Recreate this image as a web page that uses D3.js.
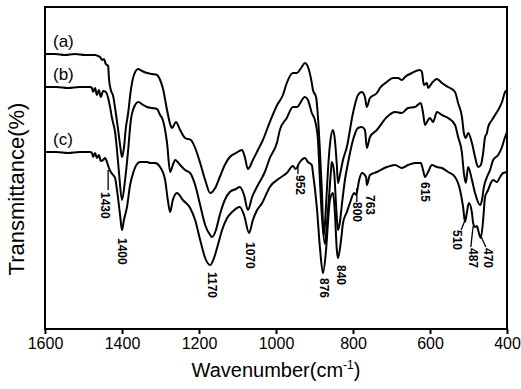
<!DOCTYPE html>
<html>
<head>
<meta charset="utf-8">
<script src="https://cdn.jsdelivr.net/npm/d3@7"></script>
<style>
    body { margin: 0; background: #fff; }
    text { font-family: "Liberation Sans", Arial, sans-serif; fill: #000; }
</style>
</head>
<body>
<div id="chart"></div>
<script>
// x axis ticks (cm-1), axis runs high -> low
var xTicks = [1600, 1400, 1200, 1000, 800, 600, 400];
var seriesNames = ["(a)", "(b)", "(c)"];

// spectra: [wavenumber, transmittance (a.u., stacked)]
var spectrumA = [
    [1600, 275], [1574, 275], [1548, 274], [1522, 275], [1496, 274], [1470, 274], [1462, 273],
    [1457, 272], [1452, 269], [1447, 270], [1442, 265], [1436, 263], [1434, 251], [1429, 239],
    [1423, 233], [1418, 221], [1410, 199], [1405, 184], [1400, 172], [1395, 181], [1390, 201],
    [1384, 216], [1377, 239], [1369, 254], [1358, 260], [1348, 258], [1335, 256], [1322, 255],
    [1309, 254], [1301, 249], [1294, 241], [1283, 219], [1275, 205], [1270, 201], [1260, 207],
    [1249, 199], [1236, 191], [1221, 189], [1208, 179], [1197, 166], [1184, 149], [1171, 136],
    [1158, 141], [1146, 152], [1133, 164], [1120, 172], [1104, 176], [1088, 179], [1081, 172],
    [1073, 160], [1060, 169], [1047, 179], [1034, 189], [1016, 207], [997, 224], [982, 234],
    [972, 246], [956, 256], [946, 256], [933, 262], [925, 266], [917, 262], [907, 246],
    [904, 239], [896, 232], [891, 212], [886, 179], [881, 139], [876, 93], [870, 124],
    [865, 159], [860, 184], [852, 199], [847, 189], [842, 164], [839, 146], [834, 154],
    [826, 169], [816, 182], [800, 216], [787, 234], [777, 237], [769, 232], [764, 222],
    [756, 231], [738, 236], [730, 241], [712, 247], [696, 251], [683, 251], [673, 249],
    [665, 252], [647, 256], [626, 259], [621, 257], [616, 244], [608, 246], [605, 241],
    [595, 246], [582, 250], [569, 246], [553, 242], [535, 237], [527, 226], [517, 212],
    [512, 196], [507, 191], [501, 196], [491, 186], [483, 172], [475, 162], [468, 164],
    [462, 176], [457, 192], [452, 196], [449, 202], [439, 209], [431, 214], [423, 219],
    [413, 227], [405, 237], [400, 239]
];

var spectrumB = [
    [1600, 242], [1570, 242], [1540, 241], [1510, 242], [1483, 242], [1478, 241], [1475, 237],
    [1470, 241], [1465, 234], [1460, 239], [1455, 232], [1449, 238], [1442, 237], [1436, 231],
    [1431, 222], [1426, 211], [1423, 206], [1418, 197], [1413, 179], [1408, 157], [1400, 129],
    [1392, 149], [1384, 179], [1377, 209], [1366, 224], [1358, 227], [1345, 224], [1335, 222],
    [1322, 221], [1309, 220], [1301, 214], [1294, 209], [1283, 186], [1275, 157], [1268, 164],
    [1262, 169], [1249, 164], [1236, 159], [1223, 156], [1210, 144], [1197, 124], [1184, 104],
    [1171, 94], [1166, 92], [1156, 99], [1146, 114], [1133, 129], [1120, 137], [1104, 140],
    [1094, 142], [1083, 134], [1073, 119], [1062, 132], [1047, 144], [1029, 157], [1016, 171],
    [997, 187], [990, 199], [972, 211], [956, 222], [946, 222], [925, 232], [917, 229],
    [907, 216], [899, 209], [891, 189], [886, 149], [881, 114], [873, 85], [868, 104],
    [862, 134], [857, 159], [855, 167], [849, 157], [844, 124], [839, 99], [834, 107],
    [829, 124], [821, 149], [813, 166], [800, 189], [787, 201], [777, 202], [769, 199],
    [764, 181], [756, 192], [738, 199], [712, 212], [691, 217], [673, 216], [657, 221],
    [639, 222], [624, 226], [618, 216], [613, 204], [605, 209], [600, 211], [592, 207],
    [582, 217], [569, 214], [553, 211], [535, 204], [527, 192], [517, 176], [512, 156],
    [507, 146], [501, 162], [491, 149], [483, 136], [470, 124], [465, 129], [460, 142],
    [452, 152], [444, 159], [436, 169], [423, 174], [413, 182], [405, 192], [400, 197]
];

var spectrumC = [
    [1600, 177], [1570, 177], [1540, 176], [1510, 177], [1483, 177], [1478, 176], [1475, 172],
    [1470, 176], [1465, 171], [1460, 174], [1455, 168], [1449, 169], [1444, 171], [1439, 167],
    [1434, 161], [1429, 157], [1423, 154], [1418, 151], [1413, 139], [1405, 114], [1400, 99],
    [1395, 109], [1387, 122], [1379, 144], [1371, 156], [1361, 165], [1353, 167], [1335, 167],
    [1327, 166], [1314, 166], [1301, 162], [1288, 149], [1281, 129], [1275, 117], [1268, 129],
    [1257, 136], [1242, 129], [1223, 121], [1210, 109], [1197, 89], [1184, 71], [1171, 64],
    [1161, 71], [1151, 84], [1140, 99], [1127, 111], [1114, 117], [1094, 122], [1083, 114],
    [1070, 96], [1060, 109], [1049, 119], [1036, 126], [1016, 142], [990, 151], [972, 156],
    [956, 163], [949, 160], [938, 167], [925, 171], [917, 167], [907, 164], [904, 156],
    [894, 122], [886, 82], [878, 56], [870, 79], [865, 106], [860, 129], [852, 136],
    [847, 116], [842, 79], [839, 71], [831, 89], [826, 106], [816, 117], [808, 126],
    [797, 136], [792, 134], [784, 149], [777, 156], [766, 152], [764, 144], [756, 154],
    [738, 157], [712, 162], [691, 164], [673, 161], [657, 164], [639, 166], [624, 166],
    [618, 159], [613, 152], [605, 157], [595, 164], [582, 162], [569, 161], [553, 157],
    [535, 152], [522, 139], [514, 122], [509, 107], [504, 117], [499, 126], [491, 116],
    [488, 106], [483, 102], [478, 103], [475, 99], [468, 91], [462, 109], [457, 132],
    [449, 139], [442, 146], [436, 149], [426, 147], [418, 152], [410, 156], [400, 157]
];

// peak annotations: text, [wavenumber, value] of text top, optional leader line
var peakText = ["1430", "1400", "1170", "1070", "952", "876", "840", "800", "763", "615", "510", "487", "470"];
var peakAt = [[1444, 137], [1400, 91], [1165, 57], [1068, 87], [938, 154], [876, 51], [831, 64],
              [789, 127], [756, 134], [613, 147], [530, 99], [488, 81], [449, 81]];
var peakLeader = [[1436, 159, 1436, 139], null, null, null, [943, 163, 943, 155], null, null,
                  [790, 141, 790, 127], null, null, [509, 109, 519, 99], [488, 103, 494, 82],
                  [468, 93, 455, 82]];

SpectraVis = function (_parentElement, _series, _names) {
    this.parentElement = _parentElement;
    this.series = _series;
    this.names = _names;

    this.initVis();
}

SpectraVis.prototype.initVis = function () {
    var vis = this;

    vis.margin = { top: 7, right: 14, bottom: 60, left: 45 };
    vis.width = 521 - vis.margin.left - vis.margin.right;
    vis.height = 389 - vis.margin.top - vis.margin.bottom;

    vis.svg = d3.select("#" + vis.parentElement).append("svg")
        .attr("width", 521)
        .attr("height", 389)
        .append("g")
        .attr("transform", "translate(" + vis.margin.left + "," + vis.margin.top + ")");

    vis.x = d3.scaleLinear()
        .domain([1600, 400])
        .range([0, vis.width]);

    vis.y = d3.scaleLinear()
        .domain([0, 322])
        .range([vis.height, 0]);

    vis.updateVis();
}

SpectraVis.prototype.updateVis = function () {
    var vis = this;

    // x axis, ticks pointing out
    var xAxis = vis.svg.append("g")
        .attr("transform", "translate(0," + vis.height + ")")
        .call(d3.axisBottom(vis.x)
            .tickValues(xTicks)
            .tickFormat(d3.format("d"))
            .tickSizeInner(5).tickSizeOuter(0).tickPadding(4));
    xAxis.select(".domain").remove();
    xAxis.selectAll(".tick line").attr("stroke", "#000").attr("stroke-width", 2);
    xAxis.selectAll(".tick text")
        .style("font-family", "Liberation Sans, Arial, sans-serif")
        .style("font-size", "16px");

    // frame
    vis.svg.append("rect")
        .attr("x", 0)
        .attr("y", 0)
        .attr("width", vis.width)
        .attr("height", vis.height)
        .attr("fill", "none")
        .attr("stroke", "#000")
        .attr("stroke-width", 2);

    var line = d3.line()
        .x(function (d) { return vis.x(d[0]); })
        .y(function (d) { return vis.y(d[1]); })
        .curve(d3.curveMonotoneX);

    vis.svg.append("g")
        .selectAll("path")
        .data(vis.series)
        .enter()
        .append("path")
        .attr("d", line)
        .attr("fill", "none")
        .attr("stroke", "#000")
        .attr("stroke-width", 2)
        .attr("stroke-linejoin", "round");

    // series names sit just above each flat start
    vis.svg.selectAll(".series-name")
        .data(vis.names)
        .enter()
        .append("text")
        .attr("class", "series-name")
        .attr("x", vis.x(1600) + 8)
        .attr("y", function (d, i) { return vis.y(vis.series[i][0][1]) - 7; })
        .style("font-size", "17px")
        .text(function (d) { return d; });

    // peak labels
    var peaks = vis.svg.append("g").attr("class", "peaks");
    peakText.forEach(function (t, i) {
        var lead = peakLeader[i];
        if (lead) {
            peaks.append("line")
                .attr("x1", vis.x(lead[0]))
                .attr("y1", vis.y(lead[1]))
                .attr("x2", vis.x(lead[2]))
                .attr("y2", vis.y(lead[3]))
                .attr("stroke", "#000")
                .attr("stroke-width", 1.3);
        }
        var px = vis.x(peakAt[i][0]);
        var py = vis.y(peakAt[i][1]);
        peaks.append("text")
            .attr("transform", "translate(" + px + "," + py + ") rotate(90)")
            .attr("dominant-baseline", "central")
            .attr("text-anchor", "start")
            .style("font-size", "12px")
            .style("font-weight", "bold")
            .text(t);
    });

    // axis titles
    var xTitle = vis.svg.append("text")
        .attr("x", vis.width / 2)
        .attr("y", vis.height + 48)
        .attr("text-anchor", "middle")
        .style("font-size", "20px");
    xTitle.append("tspan").text("Wavenumber(cm");
    xTitle.append("tspan").attr("dy", -8).style("font-size", "12px").text("-1");
    xTitle.append("tspan").attr("dy", 8).text(")");

    vis.svg.append("text")
        .attr("transform", "translate(" + (-21) + "," + (vis.height / 2 + 21) + ") rotate(-90)")
        .attr("text-anchor", "middle")
        .style("font-size", "22px")
        .text("Transmittance(%)");
}

var chart = new SpectraVis("chart", [spectrumA, spectrumB, spectrumC], seriesNames);
</script>
</body>
</html>
